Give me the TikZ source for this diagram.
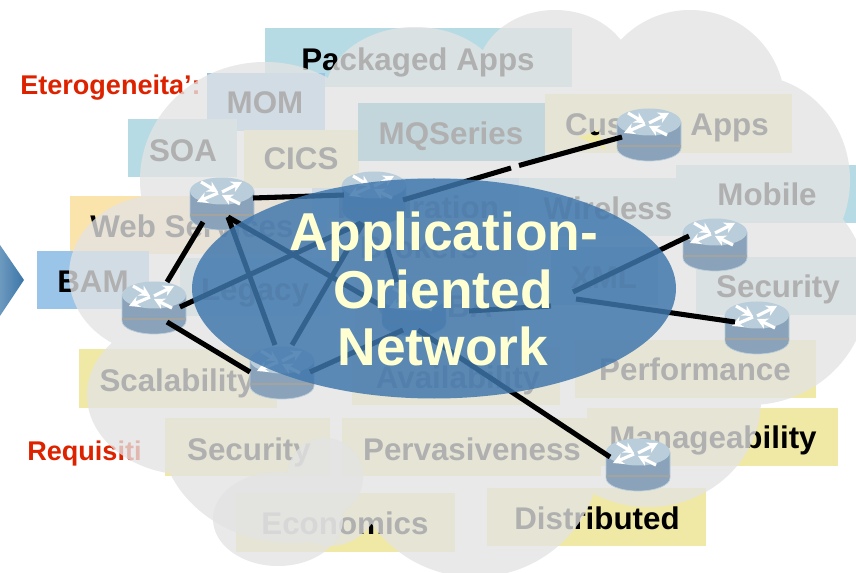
\documentclass[tikz,border=0pt]{standalone}
\usepackage{fontspec}
\setmainfont{Liberation Sans}
\usetikzlibrary{calc,arrows.meta}
\definecolor{tagyellow}{HTML}{F0E9A6}
\definecolor{tagteal}{HTML}{B7DBE4}
\definecolor{tagblue}{HTML}{9AC5E9}
\definecolor{tagorange}{HTML}{FBE4AC}
\definecolor{tagdeep}{HTML}{50AAC8}
\definecolor{cloudgrey}{HTML}{E3E3E3}
\definecolor{hubblue}{RGB}{63,118,172}
\definecolor{hubtext}{HTML}{FFFFD2}
\definecolor{redtext}{HTML}{DD2200}
\definecolor{routertop}{HTML}{B9CDDA}
\definecolor{routerside}{HTML}{8AA3BA}
\definecolor{routerline}{HTML}{A3A3A0}
\definecolor{pointerlight}{HTML}{6D99BF}
\definecolor{pointerdark}{HTML}{3A76A8}
\tikzset{
  x=0.75pt,y=-0.75pt,
  taglabel/.style={anchor=base,inner sep=0pt,font=\fontsize{23.5pt}{26pt}\selectfont\bfseries,text=black},
  redlabel/.style={anchor=base west,inner sep=0pt,font=\fontsize{20.3pt}{24pt}\selectfont\bfseries,text=redtext},
  hublabel/.style={anchor=base,inner sep=0pt,font=\fontsize{40pt}{43pt}\selectfont\bfseries,text=hubtext},
  cloudfill/.style={fill=cloudgrey,fill opacity=0.776},
  link/.style={draw=black,line width=3.8pt},
  routerhit/.style={inner sep=0pt,minimum width=48pt,minimum height=39pt,draw=none},
  routerarrow/.style={draw=white,line width=2.4pt,-{Stealth[length=8pt,width=8.5pt]}},
  router/.pic={
    \fill[routerside,draw=routertop,line width=0.5pt] (-32,-13) -- (-32,13) arc[start angle=180,end angle=0,x radius=32,y radius=13] -- (32,-13) -- cycle;
    \draw[draw=routerline,line width=0.8pt] (-32,11) -- (32,11);
    \fill[routertop] (0,-13) ellipse[x radius=32,y radius=13.5];
    \draw[routerarrow] (-21,-22) -- (-4,-12);
    \draw[routerarrow] (0,-12) -- (20,-22);
    \draw[routerarrow] (-4,-11) -- (-25,-2);
    \draw[routerarrow] (18,0) -- (0,-9);
  }
}
\newcommand{\tagbox}[9]{%
  \fill[#2] (#3,#4) rectangle (#5,#6);
  \node[taglabel] (#1) at (#7,#8) {#9};}
\newcommand{\routerat}[3]{%
  \node[routerhit] (#1) at (#2,#3) {};
  \pic at (#1.center) {router};}
\begin{document}
\begin{tikzpicture}
\useasboundingbox (0,0) rectangle (856,573);
\clip (0,0) rectangle (856,573);
\fill[white] (0,0) rectangle (856,573);
% arrow at the left
\shade[left color=pointerlight,right color=pointerdark] (0,245) -- (24,280) -- (0,316) -- cycle;
% tags
\tagbox{tintegration}{tagblue}{312}{178}{520}{236}{418}{219}{Integration}
\tagbox{tbrokers}{tagyellow}{327}{218}{527}{276}{419}{259}{Brokers}
\tagbox{tcorba}{tagyellow}{355}{277}{515}{335}{435}{318}{CORBA}
\tagbox{tpackaged}{tagteal}{265}{28}{572}{87}{418}{71}{Packaged Apps}
\tagbox{tmom}{tagblue}{207}{73}{325}{131}{265}{114}{MOM}
\tagbox{tsoa}{tagteal}{128}{119}{237}{177}{183}{162}{SOA}
\tagbox{tcics}{tagyellow}{244}{130}{359}{188}{301}{170}{CICS}
\tagbox{tmq}{tagdeep}{358}{103}{545}{161}{451}{145}{MQSeries}
\tagbox{tcustom}{tagyellow}{545}{94}{792}{153}{667}{136}{Custom Apps}
\tagbox{twireless}{tagteal}{519}{178}{697}{236}{608}{220}{Wireless}
\tagbox{tmobile}{tagteal}{676}{165}{860}{223}{767}{206}{Mobile}
\tagbox{tweb}{tagorange}{70}{196}{312}{254}{192}{238}{Web Services}
\tagbox{tlegacy}{tagteal}{180}{258}{330}{316}{255}{301}{Legacy}
\tagbox{tbam}{tagblue}{37}{251}{149}{309}{93}{293}{BAM}
\tagbox{txml}{tagdeep}{551}{247}{658}{305}{604}{289}{XML}
\tagbox{tsecr}{tagteal}{696}{257}{860}{315}{778}{298}{Security}
\tagbox{tperf}{tagyellow}{575}{340}{816}{398}{695}{380}{Performance}
\tagbox{tavail}{tagyellow}{352}{347}{560}{405}{458}{388}{Availability}
\tagbox{tscal}{tagyellow}{79}{349}{277}{408}{177}{391}{Scalability}
\tagbox{tsecl}{tagyellow}{165}{418}{330}{476}{249}{460}{Security}
\tagbox{tperv}{tagyellow}{342}{418}{601}{476}{472}{460}{Pervasiveness}
\tagbox{tmanage}{tagyellow}{587}{408}{838}{466}{713}{448}{Manageability}
\tagbox{tecon}{tagyellow}{236}{493}{455}{552}{345}{534}{Economics}
\tagbox{tdist}{tagyellow}{487}{488}{706}{546}{597}{529}{Distributed}
% red headings
\node[redlabel] (eterog) at (20,95) {Eterogeneita’:};
\node[redlabel] (requis) at (27,460) {Requisiti};
% main cloud
\fill[cloudfill]
  (265,180) ellipse[x radius=125,y radius=118]
  (415,95) ellipse[x radius=90,y radius=68]
  (555,75) ellipse[x radius=78,y radius=65]
  (690,105) ellipse[x radius=95,y radius=95]
  (750,180) ellipse[x radius=100,y radius=105]
  (750,290) ellipse[x radius=118,y radius=115]
  (648,400) ellipse[x radius=113,y radius=107]
  (475,455) ellipse[x radius=125,y radius=122]
  (292,430) ellipse[x radius=132,y radius=113]
  (330,490) ellipse[x radius=52,y radius=56]
  (190,395) ellipse[x radius=103,y radius=80]
  (160,275) ellipse[x radius=91,y radius=80]
  (430,290) ellipse[x radius=280,y radius=180];
% small cloud
\fill[cloudfill]
  (278,519) ellipse[x radius=65,y radius=47]
  (325,477) ellipse[x radius=38,y radius=39];
% routers
\routerat{r1}{222}{204}
\routerat{r2}{374}{198}
\routerat{r3}{649}{135}
\routerat{r4}{715}{245}
\routerat{r5}{757}{328}
\routerat{r6}{638}{465}
\routerat{r7}{154}{308}
\routerat{r8}{282}{373}
\routerat{r9}{414}{310}
% connectors
\coordinate (gapa) at (511,168);
\coordinate (gapb) at (519,165.5);
\coordinate (stubend) at (551,306);
\draw[link] ($(r1)+(31,-6)$) -- ($(r2)+(-30,-3)$);
\draw[link] ($(r2)+(29,2)$) -- (gapa);
\draw[link] (gapb) -- ($(r3)+(-27,2)$);
\draw[link] ($(r1)+(-19,18)$) -- ($(r7)+(13,-26)$);
\draw[link] ($(r7)+(26,-1)$) -- ($(r2)+(-13,25)$);
\draw[link] ($(r7)+(13,14)$) -- ($(r8)+(-32,-1)$);
\draw[link] ($(r1)+(6,13)$) -- ($(r8)+(-7,-28)$);
\draw[link] ($(r1)+(6,13)$) -- ($(r9)+(-34,-5)$);
\draw[link] ($(r2)+(-11,25)$) -- ($(r8)+(10,-28)$);
\draw[link] ($(r2)+(13,49)$) -- ($(r9)+(-17,-28)$);
\draw[link] ($(r8)+(28,-1)$) -- ($(r9)+(-11,20)$);
\draw[link] ($(r9)+(4,20)$) -- ($(r6)+(-28,-8)$);
\draw[link] ($(r9)+(55,1)$) -- (stubend);
\draw[link] ($(r4)+(-142,47)$) -- ($(r4)+(-26,-9)$);
\draw[link] ($(r5)+(-181,-29)$) -- ($(r5)+(-22,-6)$);
% hub
\fill[hubblue,fill opacity=0.83] (434,288.5) ellipse[x radius=242,y radius=110];
\node[hublabel] (hub1) at (444,251) {Application-};
\node[hublabel] (hub2) at (443,309) {Oriented};
\node[hublabel] (hub3) at (443,365) {Network};
\end{tikzpicture}
\end{document}
